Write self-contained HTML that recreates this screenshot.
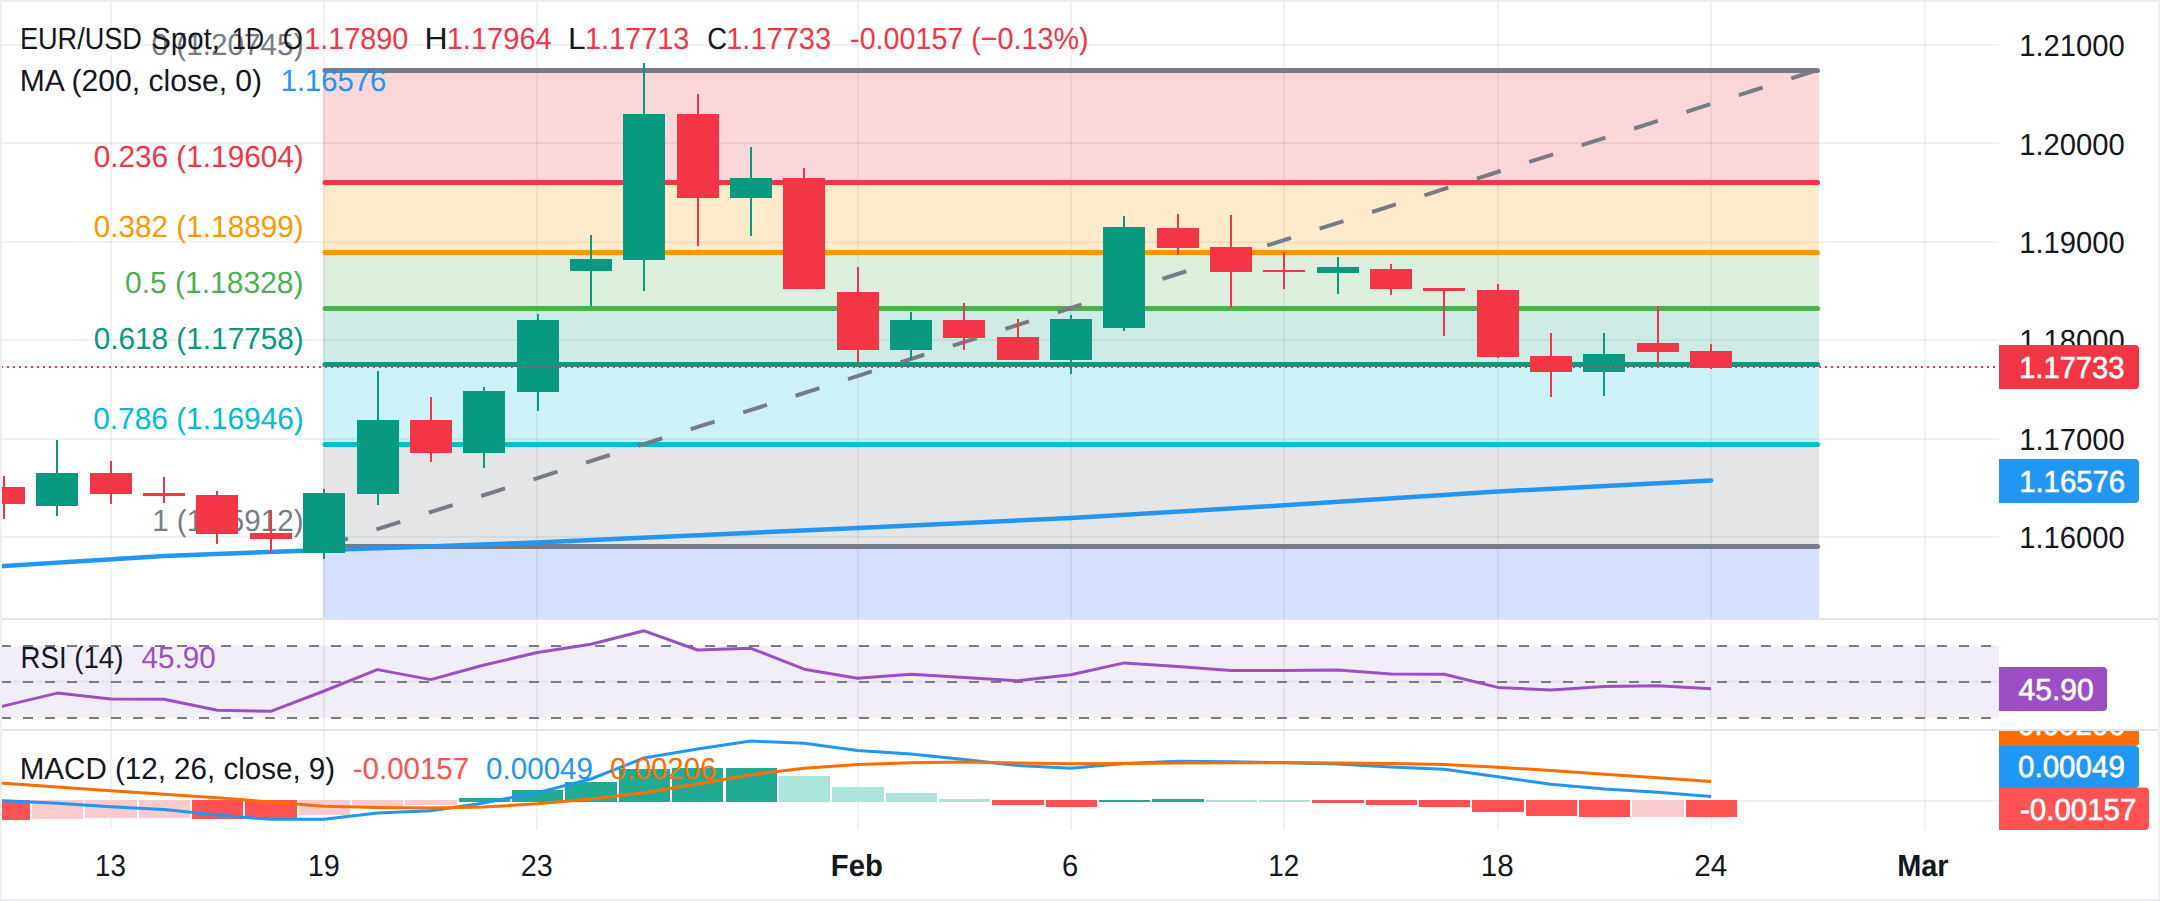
<!DOCTYPE html><html><head><meta charset="utf-8"><title>EUR/USD</title><style>html,body{margin:0;padding:0;background:#fff;overflow:hidden}svg{display:block}text{font-family:"Liberation Sans", sans-serif}</style></head><body>
<svg width="2160" height="901" viewBox="0 0 2160 901" text-rendering="geometricPrecision">
<rect x="0" y="0" width="2160" height="901" fill="#ffffff"/>
<rect x="2" y="44.0" width="1997" height="2" fill="rgba(30,45,40,0.065)"/><rect x="2" y="142.0" width="1997" height="2" fill="rgba(30,45,40,0.065)"/><rect x="2" y="241.0" width="1997" height="2" fill="rgba(30,45,40,0.065)"/><rect x="2" y="339.0" width="1997" height="2" fill="rgba(30,45,40,0.065)"/><rect x="2" y="438.0" width="1997" height="2" fill="rgba(30,45,40,0.065)"/><rect x="2" y="536.0" width="1997" height="2" fill="rgba(30,45,40,0.065)"/><rect x="110" y="2" width="2" height="616" fill="rgba(30,45,40,0.065)"/><rect x="110" y="619" width="2" height="110" fill="rgba(30,45,40,0.065)"/><rect x="110" y="731" width="2" height="99" fill="rgba(30,45,40,0.065)"/><rect x="323" y="2" width="2" height="616" fill="rgba(30,45,40,0.065)"/><rect x="323" y="619" width="2" height="110" fill="rgba(30,45,40,0.065)"/><rect x="323" y="731" width="2" height="99" fill="rgba(30,45,40,0.065)"/><rect x="536" y="2" width="2" height="616" fill="rgba(30,45,40,0.065)"/><rect x="536" y="619" width="2" height="110" fill="rgba(30,45,40,0.065)"/><rect x="536" y="731" width="2" height="99" fill="rgba(30,45,40,0.065)"/><rect x="857" y="2" width="2" height="616" fill="rgba(30,45,40,0.065)"/><rect x="857" y="619" width="2" height="110" fill="rgba(30,45,40,0.065)"/><rect x="857" y="731" width="2" height="99" fill="rgba(30,45,40,0.065)"/><rect x="1070" y="2" width="2" height="616" fill="rgba(30,45,40,0.065)"/><rect x="1070" y="619" width="2" height="110" fill="rgba(30,45,40,0.065)"/><rect x="1070" y="731" width="2" height="99" fill="rgba(30,45,40,0.065)"/><rect x="1283" y="2" width="2" height="616" fill="rgba(30,45,40,0.065)"/><rect x="1283" y="619" width="2" height="110" fill="rgba(30,45,40,0.065)"/><rect x="1283" y="731" width="2" height="99" fill="rgba(30,45,40,0.065)"/><rect x="1497" y="2" width="2" height="616" fill="rgba(30,45,40,0.065)"/><rect x="1497" y="619" width="2" height="110" fill="rgba(30,45,40,0.065)"/><rect x="1497" y="731" width="2" height="99" fill="rgba(30,45,40,0.065)"/><rect x="1710" y="2" width="2" height="616" fill="rgba(30,45,40,0.065)"/><rect x="1710" y="619" width="2" height="110" fill="rgba(30,45,40,0.065)"/><rect x="1710" y="731" width="2" height="99" fill="rgba(30,45,40,0.065)"/><rect x="1924" y="2" width="2" height="616" fill="rgba(30,45,40,0.065)"/><rect x="1924" y="619" width="2" height="110" fill="rgba(30,45,40,0.065)"/><rect x="1924" y="731" width="2" height="99" fill="rgba(30,45,40,0.065)"/><rect x="2" y="680.7" width="1997" height="2" fill="rgba(30,45,40,0.065)"/><rect x="2" y="800" width="1997" height="2" fill="rgba(30,45,40,0.065)"/>
<rect x="323" y="70.5" width="1496" height="112.0" fill="#f23645" fill-opacity="0.2"/>
<rect x="323" y="182.5" width="1496" height="70.0" fill="#ff9800" fill-opacity="0.2"/>
<rect x="323" y="252.5" width="1496" height="56.0" fill="#4caf50" fill-opacity="0.2"/>
<rect x="323" y="308.5" width="1496" height="56.0" fill="#089981" fill-opacity="0.2"/>
<rect x="323" y="364.5" width="1496" height="80.0" fill="#00bcd4" fill-opacity="0.2"/>
<rect x="323" y="444.5" width="1496" height="102.0" fill="#787b86" fill-opacity="0.2"/>
<rect x="323" y="546.5" width="1496" height="71.5" fill="#2962ff" fill-opacity="0.2"/>
<line x1="325" y1="70.5" x2="1817.5" y2="70.5" stroke="#787b86" stroke-width="5" stroke-linecap="round"/>
<line x1="325" y1="182.5" x2="1817.5" y2="182.5" stroke="#f23645" stroke-width="5" stroke-linecap="round"/>
<line x1="325" y1="252.5" x2="1817.5" y2="252.5" stroke="#ff9800" stroke-width="5" stroke-linecap="round"/>
<line x1="325" y1="308.5" x2="1817.5" y2="308.5" stroke="#4caf50" stroke-width="5" stroke-linecap="round"/>
<line x1="325" y1="364.5" x2="1817.5" y2="364.5" stroke="#089981" stroke-width="5" stroke-linecap="round"/>
<line x1="325" y1="444.5" x2="1817.5" y2="444.5" stroke="#00bcd4" stroke-width="5" stroke-linecap="round"/>
<line x1="325" y1="546.5" x2="1817.5" y2="546.5" stroke="#787b86" stroke-width="5" stroke-linecap="round"/>
<text x="151.57" y="55.0" font-size="30.5" fill="#787b86" textLength="151.97" lengthAdjust="spacingAndGlyphs">0 (1.20745)</text>
<text x="93.67" y="167.0" font-size="30.5" fill="#f23645" textLength="210.07" lengthAdjust="spacingAndGlyphs">0.236 (1.19604)</text>
<text x="93.67" y="237.0" font-size="30.5" fill="#ff9800" textLength="210.07" lengthAdjust="spacingAndGlyphs">0.382 (1.18899)</text>
<text x="125.06" y="293.0" font-size="30.5" fill="#4caf50" textLength="178.49" lengthAdjust="spacingAndGlyphs">0.5 (1.18328)</text>
<text x="93.67" y="349.0" font-size="30.5" fill="#089981" textLength="210.07" lengthAdjust="spacingAndGlyphs">0.618 (1.17758)</text>
<text x="93.27" y="429.0" font-size="30.5" fill="#00bcd4" textLength="210.47" lengthAdjust="spacingAndGlyphs">0.786 (1.16946)</text>
<text x="152.15" y="531.0" font-size="30.5" fill="#787b86" textLength="151.38" lengthAdjust="spacingAndGlyphs">1 (1.15912)</text>
<line x1="324" y1="546.1" x2="1819.4" y2="69.4" stroke="#787b86" stroke-width="4" stroke-dasharray="25 30"/>
<polyline fill="none" stroke="#2196f3" stroke-width="4.5" stroke-linejoin="round" stroke-linecap="round" points="0,566.3 164,555.9 324,549.9 400,547.6 537,542.5 858,528 1071,518 1284,505.3 1498,491.5 1711,480.6"/>
<g><rect x="3" y="476" width="2" height="43" fill="#f23645"/><rect x="-17" y="487" width="42" height="17" fill="#f23645"/><rect x="56" y="440" width="2" height="76" fill="#089981"/><rect x="36" y="473" width="42" height="33" fill="#089981"/><rect x="110" y="461" width="2" height="43" fill="#f23645"/><rect x="90" y="473" width="42" height="21" fill="#f23645"/><rect x="163" y="477" width="2" height="26" fill="#f23645"/><rect x="143" y="493" width="42" height="3" fill="#f23645"/><rect x="216" y="491" width="2" height="53" fill="#f23645"/><rect x="196" y="495" width="42" height="39" fill="#f23645"/><rect x="270" y="510" width="2" height="43" fill="#f23645"/><rect x="250" y="533" width="42" height="6" fill="#f23645"/><rect x="323" y="489" width="2" height="70" fill="#089981"/><rect x="303" y="493" width="42" height="60" fill="#089981"/><rect x="377" y="371" width="2" height="134" fill="#089981"/><rect x="357" y="420" width="42" height="74" fill="#089981"/><rect x="430" y="397" width="2" height="65" fill="#f23645"/><rect x="410" y="420" width="42" height="33" fill="#f23645"/><rect x="483" y="387" width="2" height="81" fill="#089981"/><rect x="463" y="391" width="42" height="62" fill="#089981"/><rect x="537" y="314" width="2" height="97" fill="#089981"/><rect x="517" y="320" width="42" height="72" fill="#089981"/><rect x="590" y="235" width="2" height="71" fill="#089981"/><rect x="570" y="259" width="42" height="12" fill="#089981"/><rect x="643" y="63" width="2" height="228" fill="#089981"/><rect x="623" y="114" width="42" height="146" fill="#089981"/><rect x="697" y="94" width="2" height="152" fill="#f23645"/><rect x="677" y="114" width="42" height="84" fill="#f23645"/><rect x="750" y="147" width="2" height="89" fill="#089981"/><rect x="730" y="178" width="42" height="20" fill="#089981"/><rect x="803" y="168" width="2" height="121" fill="#f23645"/><rect x="783" y="178" width="42" height="111" fill="#f23645"/><rect x="857" y="267" width="2" height="97" fill="#f23645"/><rect x="837" y="292" width="42" height="58" fill="#f23645"/><rect x="910" y="312" width="2" height="48" fill="#089981"/><rect x="890" y="320" width="42" height="30" fill="#089981"/><rect x="963" y="303" width="2" height="47" fill="#f23645"/><rect x="943" y="320" width="42" height="18" fill="#f23645"/><rect x="1017" y="319" width="2" height="41" fill="#f23645"/><rect x="997" y="337" width="42" height="23" fill="#f23645"/><rect x="1070" y="315" width="2" height="59" fill="#089981"/><rect x="1050" y="319" width="42" height="41" fill="#089981"/><rect x="1123" y="216" width="2" height="115" fill="#089981"/><rect x="1103" y="227" width="42" height="101" fill="#089981"/><rect x="1177" y="214" width="2" height="41" fill="#f23645"/><rect x="1157" y="228" width="42" height="20" fill="#f23645"/><rect x="1230" y="215" width="2" height="93" fill="#f23645"/><rect x="1210" y="247" width="42" height="25" fill="#f23645"/><rect x="1283" y="252" width="2" height="37" fill="#f23645"/><rect x="1263" y="270" width="42" height="2" fill="#f23645"/><rect x="1337" y="257" width="2" height="37" fill="#089981"/><rect x="1317" y="267" width="42" height="6" fill="#089981"/><rect x="1390" y="264" width="2" height="31" fill="#f23645"/><rect x="1370" y="269" width="42" height="20" fill="#f23645"/><rect x="1443" y="288" width="2" height="48" fill="#f23645"/><rect x="1423" y="288" width="42" height="3" fill="#f23645"/><rect x="1497" y="284" width="2" height="74" fill="#f23645"/><rect x="1477" y="290" width="42" height="67" fill="#f23645"/><rect x="1550" y="333" width="2" height="64" fill="#f23645"/><rect x="1530" y="356" width="42" height="16" fill="#f23645"/><rect x="1603" y="333" width="2" height="63" fill="#089981"/><rect x="1583" y="354" width="42" height="18" fill="#089981"/><rect x="1657" y="306" width="2" height="59" fill="#f23645"/><rect x="1637" y="343" width="42" height="9" fill="#f23645"/><rect x="1710" y="344" width="2" height="25" fill="#f23645"/><rect x="1690" y="351" width="42" height="17" fill="#f23645"/></g>
<line x1="1" y1="367" x2="1999" y2="367" stroke="#f23645" stroke-width="2" stroke-dasharray="2 4"/>
<text x="19.88" y="49.0" font-size="30.5" fill="#131722" textLength="122.06" lengthAdjust="spacingAndGlyphs">EUR/USD</text>
<text x="151.18" y="49.0" font-size="30.5" fill="#131722" textLength="68.82" lengthAdjust="spacingAndGlyphs">Spot,</text>
<text x="231.71" y="49.0" font-size="30.5" fill="#131722" textLength="32.47" lengthAdjust="spacingAndGlyphs">1D</text>
<text x="283.01" y="49.0" font-size="30.5" fill="#131722" textLength="19.80" lengthAdjust="spacingAndGlyphs">O</text>
<text x="304.20" y="49.0" font-size="30.5" fill="#f23645" textLength="104.12" lengthAdjust="spacingAndGlyphs">1.17890</text>
<text x="424.50" y="49.0" font-size="30.5" fill="#131722" textLength="23.11" lengthAdjust="spacingAndGlyphs">H</text>
<text x="446.68" y="49.0" font-size="30.5" fill="#f23645" textLength="105.04" lengthAdjust="spacingAndGlyphs">1.17964</text>
<text x="568.12" y="49.0" font-size="30.5" fill="#131722" textLength="17.67" lengthAdjust="spacingAndGlyphs">L</text>
<text x="584.89" y="49.0" font-size="30.5" fill="#f23645" textLength="104.58" lengthAdjust="spacingAndGlyphs">1.17713</text>
<text x="707.22" y="49.0" font-size="30.5" fill="#131722" textLength="19.73" lengthAdjust="spacingAndGlyphs">C</text>
<text x="726.19" y="49.0" font-size="30.5" fill="#f23645" textLength="104.89" lengthAdjust="spacingAndGlyphs">1.17733</text>
<text x="850.10" y="49.0" font-size="30.5" fill="#f23645" textLength="238.38" lengthAdjust="spacingAndGlyphs">-0.00157 (−0.13%)</text>
<text x="19.67" y="91.0" font-size="30.5" fill="#131722" textLength="242.48" lengthAdjust="spacingAndGlyphs">MA (200, close, 0)</text>
<text x="280.78" y="91.0" font-size="30.5" fill="#2196f3" textLength="105.40" lengthAdjust="spacingAndGlyphs">1.16576</text>
<text x="2019.17" y="56.0" font-size="30.5" fill="#131722" textLength="105.55" lengthAdjust="spacingAndGlyphs">1.21000</text>
<text x="2019.17" y="155.0" font-size="30.5" fill="#131722" textLength="105.55" lengthAdjust="spacingAndGlyphs">1.20000</text>
<text x="2019.17" y="253.0" font-size="30.5" fill="#131722" textLength="105.55" lengthAdjust="spacingAndGlyphs">1.19000</text>
<text x="2019.17" y="351.0" font-size="30.5" fill="#131722" textLength="105.55" lengthAdjust="spacingAndGlyphs">1.18000</text>
<text x="2019.17" y="450.0" font-size="30.5" fill="#131722" textLength="105.55" lengthAdjust="spacingAndGlyphs">1.17000</text>
<text x="2019.17" y="548.0" font-size="30.5" fill="#131722" textLength="105.55" lengthAdjust="spacingAndGlyphs">1.16000</text>
<path d="M1999,345 H2135 A4,4 0 0 1 2139,349 V385 A4,4 0 0 1 2135,389 H1999 Z" fill="#f23645"/>
<text x="2019.18" y="378.0" font-size="30.5" fill="#ffffff" textLength="105.30" lengthAdjust="spacingAndGlyphs" stroke="#ffffff" stroke-width="0.6">1.17733</text>
<path d="M1999,459 H2135 A4,4 0 0 1 2139,463 V499 A4,4 0 0 1 2135,503 H1999 Z" fill="#2196f3"/>
<text x="2019.17" y="492.0" font-size="30.5" fill="#ffffff" textLength="106.02" lengthAdjust="spacingAndGlyphs" stroke="#ffffff" stroke-width="0.6">1.16576</text>
<rect x="2" y="618" width="2156" height="2" fill="#e0e3eb"/>
<rect x="2" y="729" width="2156" height="2" fill="#e0e3eb"/>
<rect x="2" y="645.6" width="1997" height="72.2" fill="#7e57c2" fill-opacity="0.1"/>
<line x1="1" y1="646" x2="1999" y2="646" stroke="#787b86" stroke-width="2" stroke-dasharray="10 12"/>
<line x1="1" y1="682" x2="1999" y2="682" stroke="#787b86" stroke-width="2" stroke-dasharray="10 12"/>
<line x1="1" y1="718" x2="1999" y2="718" stroke="#787b86" stroke-width="2" stroke-dasharray="10 12"/>
<polyline fill="none" stroke="#9c4fc4" stroke-width="3" stroke-linejoin="round" points="-49.4,718.6 4.0,705.9 57.3,693.1 110.7,699.1 164.0,699.3 217.4,710.3 270.7,711.3 324.1,691 377.4,669.6 430.7,679.6 484.1,665 537.4,652.5 590.8,644.2 644.1,630.8 697.5,650 750.8,648.3 804.2,669.2 857.5,678.3 910.9,674.2 964.2,677.5 1017.5,680.8 1070.9,674.7 1124.2,662.9 1177.6,666.6 1230.9,670.4 1284.3,670.4 1337.6,670.1 1391.0,673.9 1444.3,674.2 1497.7,687.4 1551.0,690 1604.4,686.5 1657.7,685.8 1711.0,688.7"/>
<text x="20.54" y="668.0" font-size="30.5" fill="#131722" textLength="102.89" lengthAdjust="spacingAndGlyphs">RSI (14)</text>
<text x="141.54" y="668.0" font-size="30.5" fill="#9c4fc4" textLength="74.20" lengthAdjust="spacingAndGlyphs">45.90</text>
<path d="M1999,667 H2103 A4,4 0 0 1 2107,671 V707 A4,4 0 0 1 2103,711 H1999 Z" fill="#9c4fc4"/>
<text x="2018.53" y="700.0" font-size="30.5" fill="#ffffff" textLength="75.12" lengthAdjust="spacingAndGlyphs" stroke="#ffffff" stroke-width="0.6">45.90</text>
<g><rect x="-21" y="800" width="51" height="20" fill="#ff5252"/><rect x="32" y="800" width="51" height="19" fill="#fbcacd"/><rect x="85" y="800" width="52" height="18" fill="#fbcacd"/><rect x="139" y="800" width="51" height="18" fill="#fbcacd"/><rect x="192" y="800" width="51" height="19" fill="#ff5252"/><rect x="245" y="800" width="52" height="19" fill="#ff5252"/><rect x="299" y="800" width="51" height="15" fill="#fbcacd"/><rect x="352" y="800" width="51" height="6" fill="#fbcacd"/><rect x="405" y="800" width="52" height="5" fill="#fbcacd"/><rect x="459" y="798" width="51" height="4" fill="#22ab94"/><rect x="512" y="790" width="51" height="12" fill="#22ab94"/><rect x="565" y="782" width="52" height="20" fill="#22ab94"/><rect x="619" y="769" width="51" height="33" fill="#22ab94"/><rect x="672" y="768" width="51" height="34" fill="#22ab94"/><rect x="726" y="768" width="51" height="34" fill="#22ab94"/><rect x="779" y="776" width="51" height="26" fill="#ace5dc"/><rect x="832" y="787" width="52" height="15" fill="#ace5dc"/><rect x="886" y="793" width="51" height="9" fill="#ace5dc"/><rect x="939" y="799" width="51" height="3" fill="#ace5dc"/><rect x="992" y="800" width="52" height="5" fill="#ff5252"/><rect x="1046" y="800" width="51" height="7" fill="#ff5252"/><rect x="1099" y="800" width="51" height="2" fill="#22ab94"/><rect x="1152" y="799" width="52" height="3" fill="#22ab94"/><rect x="1206" y="800" width="51" height="2" fill="#ace5dc"/><rect x="1259" y="800" width="51" height="2" fill="#ace5dc"/><rect x="1312" y="800" width="52" height="3" fill="#ff5252"/><rect x="1366" y="800" width="51" height="5" fill="#ff5252"/><rect x="1419" y="800" width="51" height="7" fill="#ff5252"/><rect x="1472" y="800" width="52" height="12" fill="#ff5252"/><rect x="1526" y="800" width="51" height="16" fill="#ff5252"/><rect x="1579" y="800" width="51" height="17" fill="#ff5252"/><rect x="1632" y="800" width="52" height="17" fill="#fbcacd"/><rect x="1686" y="800" width="51" height="17" fill="#ff5252"/></g>
<polyline fill="none" stroke="#2196f3" stroke-width="3" stroke-linejoin="round" points="-49.4,798.3 4.0,800.8 57.3,803.3 110.7,806.8 164.0,809.6 217.4,815.1 270.7,819.3 324.1,819.2 377.4,813.1 430.7,810.7 484.1,802.9 537.4,792.6 590.8,779 644.1,758 697.5,749 750.8,741.1 804.2,743.3 857.5,750.4 910.9,754 964.2,759.6 1017.5,765.6 1070.9,768.3 1124.2,763.5 1177.6,761.3 1230.9,761.7 1284.3,762.8 1337.6,764 1391.0,766.9 1444.3,769.2 1497.7,776.8 1551.0,784.3 1604.4,789 1657.7,792.2 1711.0,796.6"/>
<polyline fill="none" stroke="#ff6d00" stroke-width="3" stroke-linejoin="round" points="-49.4,779.4 4.0,783.2 57.3,787 110.7,790.8 164.0,794.3 217.4,797.8 270.7,802 324.1,806.3 377.4,807.4 430.7,807.9 484.1,807 537.4,803.8 590.8,799 644.1,792.8 697.5,784 750.8,774.7 804.2,768.3 857.5,764.6 910.9,762.8 964.2,761.9 1017.5,763 1070.9,763.7 1124.2,763.6 1177.6,763.1 1230.9,762.8 1284.3,762.6 1337.6,763 1391.0,763.5 1444.3,764.6 1497.7,767.2 1551.0,770.5 1604.4,774.2 1657.7,777.8 1711.0,781.4"/>
<text x="19.69" y="779.0" font-size="30.5" fill="#131722" textLength="315.44" lengthAdjust="spacingAndGlyphs">MACD (12, 26, close, 9)</text>
<text x="352.78" y="779.0" font-size="30.5" fill="#ff5252" textLength="116.42" lengthAdjust="spacingAndGlyphs">-0.00157</text>
<text x="486.08" y="779.0" font-size="30.5" fill="#2196f3" textLength="106.92" lengthAdjust="spacingAndGlyphs">0.00049</text>
<text x="610.08" y="779.0" font-size="30.5" fill="#ff6d00" textLength="106.41" lengthAdjust="spacingAndGlyphs">0.00206</text>
<defs><clipPath id="mc"><rect x="0" y="731" width="2160" height="99"/></clipPath></defs>
<g clip-path="url(#mc)">
<path d="M1999,702 H2135 A4,4 0 0 1 2139,706 V742 A4,4 0 0 1 2135,746 H1999 Z" fill="#ff6d00"/>
<text x="2018.08" y="735.0" font-size="30.5" fill="#ffffff" textLength="106.72" lengthAdjust="spacingAndGlyphs" stroke="#ffffff" stroke-width="0.6">0.00206</text>
</g>
<path d="M1999,746 H2135 A4,4 0 0 1 2139,750 V784 A4,4 0 0 1 2135,788 H1999 Z" fill="#2196f3"/>
<text x="2018.08" y="777.0" font-size="30.5" fill="#ffffff" textLength="106.72" lengthAdjust="spacingAndGlyphs" stroke="#ffffff" stroke-width="0.6">0.00049</text>
<path d="M1999,787.5 H2145 A4,4 0 0 1 2149,791.5 V826 A4,4 0 0 1 2145,830 H1999 Z" fill="#ff5252"/>
<text x="2019.98" y="820.0" font-size="30.5" fill="#ffffff" textLength="116.42" lengthAdjust="spacingAndGlyphs" stroke="#ffffff" stroke-width="0.6">-0.00157</text>
<text x="95.07" y="876.0" font-size="30.5" fill="#131722" textLength="30.86" lengthAdjust="spacingAndGlyphs">13</text>
<text x="307.80" y="876.0" font-size="30.5" fill="#131722" textLength="32.07" lengthAdjust="spacingAndGlyphs">19</text>
<text x="520.65" y="876.0" font-size="30.5" fill="#131722" textLength="32.02" lengthAdjust="spacingAndGlyphs">23</text>
<text x="830.87" y="876.0" font-size="30.5" fill="#131722" textLength="52.09" lengthAdjust="spacingAndGlyphs" font-weight="bold">Feb</text>
<text x="1062.03" y="876.0" font-size="30.5" fill="#131722" textLength="16.25" lengthAdjust="spacingAndGlyphs">6</text>
<text x="1268.27" y="876.0" font-size="30.5" fill="#131722" textLength="30.86" lengthAdjust="spacingAndGlyphs">12</text>
<text x="1480.85" y="876.0" font-size="30.5" fill="#131722" textLength="32.95" lengthAdjust="spacingAndGlyphs">18</text>
<text x="1694.21" y="876.0" font-size="30.5" fill="#131722" textLength="33.03" lengthAdjust="spacingAndGlyphs">24</text>
<text x="1897.19" y="876.0" font-size="30.5" fill="#131722" textLength="51.42" lengthAdjust="spacingAndGlyphs" font-weight="bold">Mar</text>
<rect x="0" y="0" width="2160" height="2" fill="#eeeff3"/>
<rect x="0" y="0" width="2" height="901" fill="#eeeff3"/>
<rect x="2158" y="0" width="2" height="901" fill="#eeeff3"/>
<rect x="0" y="899" width="2160" height="2" fill="#eeeff3"/>
</svg></body></html>
